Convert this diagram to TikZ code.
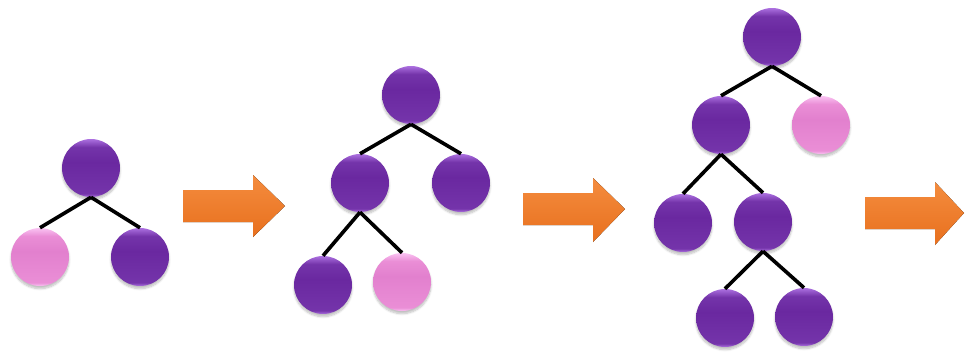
\documentclass[tikz,border=0pt]{standalone}
\usetikzlibrary{shadows.blur}
\definecolor{plumDark}{RGB}{106,40,160}
\definecolor{plumMid}{RGB}{116,52,170}
\definecolor{plumLight}{RGB}{172,112,224}
\definecolor{rosePale}{RGB}{250,195,242}
\definecolor{roseMid}{RGB}{234,142,214}
\definecolor{roseDeep}{RGB}{226,128,206}
\definecolor{orangeTop}{RGB}{244,140,62}
\definecolor{orangeBot}{RGB}{232,112,30}
% vertical shadings: path spans 25bp (bottom) .. 75bp (top)
\pgfdeclareverticalshading{plumball}{100bp}{%
  color(0bp)=(plumLight); color(25bp)=(plumLight); color(28bp)=(plumMid);
  color(55bp)=(plumDark); color(68bp)=(plumMid); color(75bp)=(plumLight); color(100bp)=(plumLight)}
\pgfdeclareverticalshading{roseball}{100bp}{%
  color(0bp)=(rosePale); color(25bp)=(rosePale); color(28bp)=(roseMid);
  color(55bp)=(roseDeep); color(68bp)=(roseMid); color(75bp)=(rosePale); color(100bp)=(rosePale)}
\begin{document}
\begin{tikzpicture}[x=0.03cm,y=-0.03cm,
  ball/.style={circle,inner sep=0pt,minimum size=1.74cm,
    blur shadow={shadow xshift=0pt,shadow yshift=-0.08cm,shadow blur steps=6,shadow opacity=25}},
  purpleball/.style={ball,shading=plumball},
  pinkball/.style={ball,shading=roseball},
  branch/.style={line width=3.1pt,black},
  bigarrow/.style={top color=orangeTop,bottom color=orangeBot,draw=none}]
\useasboundingbox (0,0) rectangle (966,355);

% first tree
\node[purpleball] (a1) at (91,168) {};
\node[pinkball]   (a2) at (40,257) {};
\node[purpleball] (a3) at (140,257) {};
\draw[branch] (a1.south) -- (a2.north);
\draw[branch] (a1.south) -- (a3.north);

% second tree
\node[purpleball] (b1) at (411,95) {};
\node[purpleball] (b2) at (360,183) {};
\node[purpleball] (b3) at (461,183) {};
\node[purpleball] (b4) at (323,285) {};
\node[pinkball]   (b5) at (402,282) {};
\draw[branch] (b1.south) -- (b2.north);
\draw[branch] (b1.south) -- (b3.north);
\draw[branch] (b2.south) -- (b4.north);
\draw[branch] (b2.south) -- (b5.north);

% third tree
\node[purpleball] (c1) at (772,37) {};
\node[purpleball] (c2) at (721,125) {};
\node[pinkball]   (c3) at (821,125) {};
\node[purpleball] (c4) at (683,223) {};
\node[purpleball] (c5) at (763,222) {};
\node[purpleball] (c6) at (725,318) {};
\node[purpleball] (c7) at (804,317) {};
\draw[branch] (c1.south) -- (c2.north);
\draw[branch] (c1.south) -- (c3.north);
\draw[branch] (c2.south) -- (c4.north);
\draw[branch] (c2.south) -- (c5.north);
\draw[branch] (c5.south) -- (c6.north);
\draw[branch] (c5.south) -- (c7.north);

% step arrows
\fill[bigarrow] (183,190) -- (253,190) -- (253,175) -- (285,206)
  -- (253,237) -- (253,222) -- (183,222) -- cycle;
\fill[bigarrow] (523,193) -- (593,193) -- (593,178) -- (625,209)
  -- (593,242) -- (593,225) -- (523,225) -- cycle;
\fill[bigarrow] (865,197) -- (935,197) -- (935,182) -- (964,213)
  -- (935,245) -- (935,229) -- (865,229) -- cycle;
\end{tikzpicture}
\end{document}
